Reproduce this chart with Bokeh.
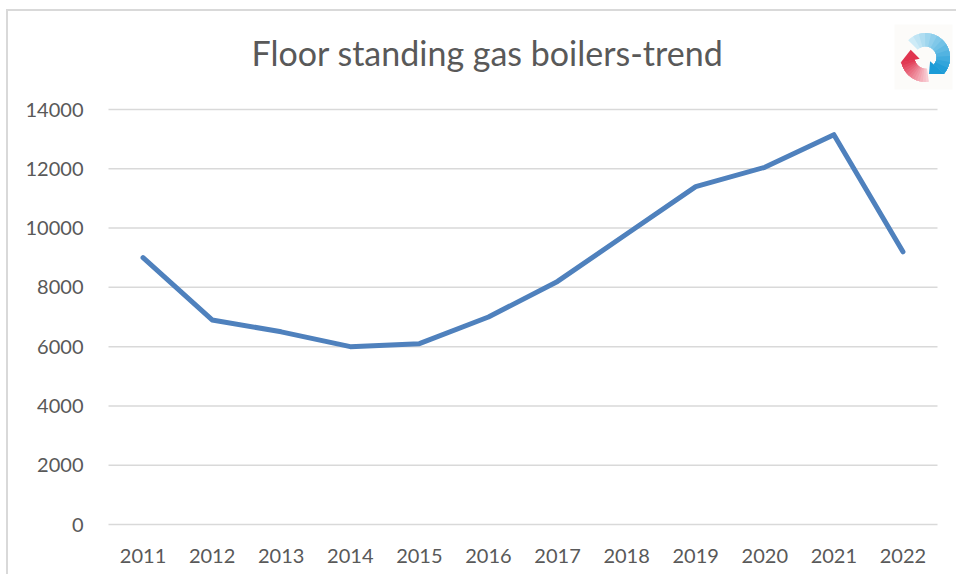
from bokeh.plotting import figure
from bokeh.models import Range1d, Label, PolyAnnotation
from bokeh.embed import file_html
from bokeh.resources import INLINE
import numpy as np

years = ["2011", "2012", "2013", "2014", "2015", "2016", "2017", "2018", "2019", "2020", "2021", "2022"]
values = [9000, 6900, 6500, 6000, 6100, 7000, 8200, 9800, 11400, 12050, 13150, 9200]
y_ticks = [0, 2000, 4000, 6000, 8000, 10000, 12000, 14000]
title_text = "Floor standing gas boilers-trend"

TXT = "#595959"
FONT = "Lato"
GRID = "#d9d9d9"

# page-pixel layout (figure placed at page origin)
FRp = 956                 # frame right
FLp = 108 - (FRp - 937)   # frame left (symmetric category padding)
FTp, FBp = 12, 526        # frame top / bottom
Y0p, Y14p = 524, 109      # pixel of value 0 and 14000
W, H = FRp, 574

s = (Y0p - Y14p) / 14000.0
y_start = -(FBp - Y0p) / s
y_end = 14000 + (Y14p - FTp) / s
cell = (937 - 108) / 12.0
pad = (108 - FLp) / cell

p = figure(width=W, height=H, x_range=years, y_range=Range1d(y_start, y_end),
           output_backend="svg", toolbar_location=None,
           min_border_left=FLp, min_border_right=W - FRp,
           min_border_top=FTp, min_border_bottom=H - FBp)
p.x_range.range_padding = 2 * pad / 12.0
p.outline_line_color = None
p.background_fill_color = "white"
p.border_fill_alpha = 0
# chart-area border: left and top edges
p.styles = {
    "background-color": "white",
    "background-image": "linear-gradient(#d9d9d9, #d9d9d9), linear-gradient(#d9d9d9, #d9d9d9)",
    "background-position": "6px 9px, 6px 9px",
    "background-size": "2px 100%, 100% 2px",
    "background-repeat": "no-repeat",
}

# horizontal gridlines spanning the category area
p.segment(x0=0, x1=len(years), y0=y_ticks, y1=y_ticks, line_color=GRID, line_width=1.5)

p.line(years, values, line_color="#4F81BD", line_width=5, line_cap="round", line_join="round")

p.xgrid.grid_line_color = None
p.ygrid.grid_line_color = None
p.yaxis.ticker = y_ticks
for ax in (p.xaxis[0], p.yaxis[0]):
    ax.axis_line_color = None
    ax.major_tick_line_color = None
    ax.minor_tick_line_color = None
    ax.major_label_text_font = FONT
    ax.major_label_text_font_size = "20px"
    ax.major_label_text_color = TXT
p.yaxis.major_label_standoff = max(0, 19 - (108 - FLp))
p.xaxis.major_label_standoff = 18 - (FBp - Y0p)

def to_frame(X, Y):
    return np.asarray(X, dtype=float) - FLp, FBp - np.asarray(Y, dtype=float)

# title
tx, ty = to_frame(487, 52)
p.add_layout(Label(x=float(tx), y=float(ty), x_units="screen", y_units="screen", text=title_text,
                   text_font=FONT, text_font_size="34px", text_color=TXT,
                   text_align="center", text_baseline="alphabetic"))

# logo: faint backdrop + two chasing arrows
bx, by = to_frame([894, 952, 952, 894], [24, 24, 89, 89])
p.add_layout(PolyAnnotation(xs=list(bx), ys=list(by), xs_units="screen", ys_units="screen",
                            fill_color="#fcfbf9", fill_alpha=1, line_color=None))

cx, cy, r_in, r_out = 925, 57, 11, 24.5

def arc_poly(a0, a1, ri, ro, n=24):
    a = np.radians(np.linspace(a0, a1, n))
    X = np.concatenate([cx + ro * np.cos(a), cx + ri * np.cos(a[::-1])])
    Y = np.concatenate([cy - ro * np.sin(a), cy - ri * np.sin(a[::-1])])
    return to_frame(X, Y)

def mix(c0, c1, t):
    c0 = [int(c0[i:i + 2], 16) for i in (1, 3, 5)]
    c1 = [int(c1[i:i + 2], 16) for i in (1, 3, 5)]
    return "#%02x%02x%02x" % tuple(int(round(a + (b - a) * t)) for a, b in zip(c0, c1))

def arrow(a_tail, a_base, a_tip, light, dark, segs=12):
    edges = np.linspace(a_tail, a_base, segs + 1)
    for i in range(segs):
        fx, fy = arc_poly(edges[i], a_base, r_in, r_out)
        p.add_layout(PolyAnnotation(xs=list(fx), ys=list(fy), xs_units="screen", ys_units="screen",
                                    fill_color=mix(light, dark, (i + 0.5) / segs), fill_alpha=1,
                                    line_color=None))
    ab, at = np.radians(a_base), np.radians(a_tip)
    rt = (r_in + r_out) / 2 - 1
    X = [cx + (r_in - 5) * np.cos(ab), cx + (r_out + 1) * np.cos(ab), cx + rt * np.cos(at)]
    Y = [cy - (r_in - 5) * np.sin(ab), cy - (r_out + 1) * np.sin(ab), cy - rt * np.sin(at)]
    fx, fy = to_frame(X, Y)
    p.add_layout(PolyAnnotation(xs=list(fx), ys=list(fy), xs_units="screen", ys_units="screen",
                                fill_color=dark, fill_alpha=1, line_color=None))

arrow(135, -40, -78, "#d6eef8", "#1b9bd7")
arrow(278, 192, 152, "#f9d3d9", "#e0344f")

open("out.html", "w").write(file_html(p, INLINE))
